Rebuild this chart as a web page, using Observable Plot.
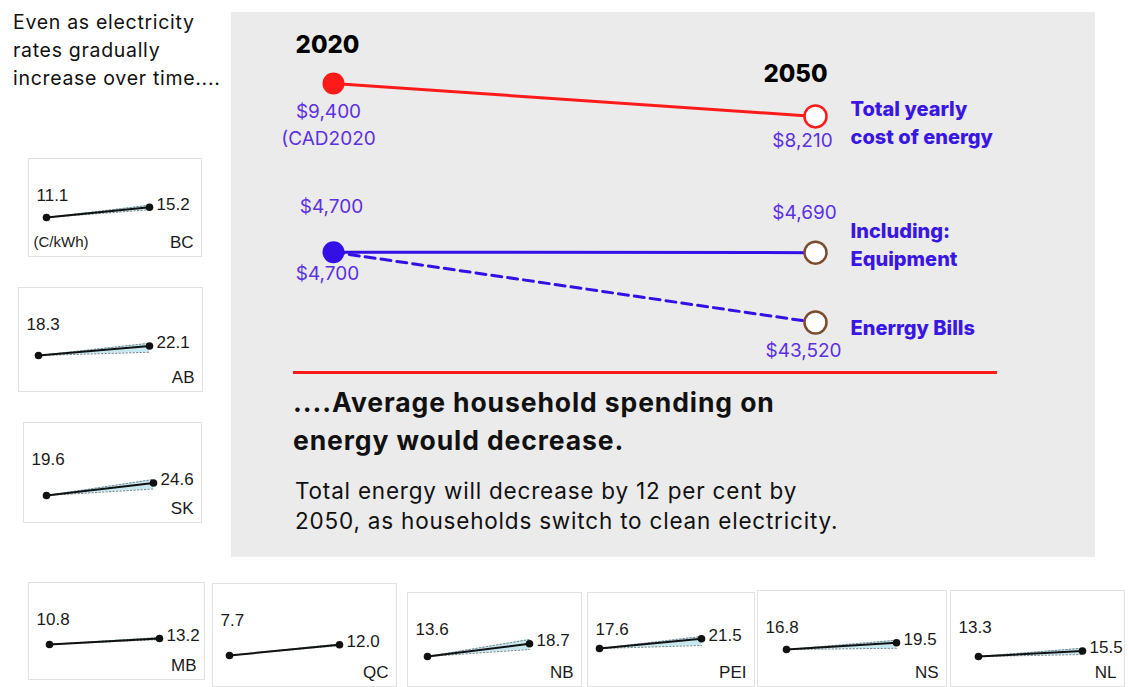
<!DOCTYPE html>
<html>
<head>
<meta charset="utf-8">
<script src="https://cdn.jsdelivr.net/npm/d3@7"></script>
<script src="https://cdn.jsdelivr.net/npm/@observablehq/plot@0.6"></script>
<style>
  body { margin: 0; background: #ffffff; }
  #page { position: relative; width: 1128px; height: 687px; overflow: hidden;
          font-family: Inter, "Open Sans", "DejaVu Sans", sans-serif; color: #111; }
  .abs { position: absolute; white-space: pre-line; }
  .box { position: absolute; border: 1px solid #e2e2e2; box-sizing: border-box; background: #fff; }
  .box svg { display: block; }
</style>
</head>
<body>
<div id="page"></div>
<script>
// ---------------- DATA ----------------
const years = [2020, 2050];
const yearLabels = ["2020", "2050"];

const totalCost     = [9400, 8210];
const equipmentCost = [4700, 4690];
const energyBills   = [4700, 3520];

const totalLabels     = ["$9,400\n(CAD2020", "$8,210"];
const equipmentLabels = ["$4,700", "$4,690"];
const billsLabels     = ["$4,700", "$43,520"];

const seriesNames = ["Total yearly\ncost of energy", "Including:\nEquipment", "Enerrgy Bills"];

const leftNote = "Even as electricity\nrates gradually\nincrease over time....";
const headline = "....Average household spending on\nenergy would decrease.";
const paragraph = "Total energy will decrease by 12 per cent by\n2050, as households switch to clean electricity.";

const provinces    = ["BC", "AB", "SK", "MB", "QC", "NB", "PEI", "NS", "NL"];
const rate2020     = [11.1, 18.3, 19.6, 10.8, 7.7, 13.6, 17.6, 16.8, 13.3];
const rate2050     = [15.2, 22.1, 24.6, 13.2, 12.0, 18.7, 21.5, 19.5, 15.5];
const rateHigh2050 = [16.0, 23.2, 26.0, 13.6, 12.3, 20.4, 22.4, 20.5, 16.6];
const rateLow2050  = [14.2, 19.6, 22.2, 12.8, 11.7, 16.4, 18.8, 17.3, 14.1];
const rateUnit = "(C/kWh)";

// ---------------- LAYOUT (not data) ----------------
const boxLayout = [
  {left: 28,  top: 158, w: 174, h: 99,  x0: 17, span: 103, dotY: 58},
  {left: 18,  top: 287, w: 185, h: 105, x0: 19, span: 111, dotY: 67},
  {left: 23,  top: 422, w: 179, h: 101, x0: 22, span: 107, dotY: 72},
  {left: 28,  top: 582, w: 177, h: 98,  x0: 20, span: 110, dotY: 61},
  {left: 212, top: 583, w: 185, h: 104, x0: 16, span: 110, dotY: 71},
  {left: 407, top: 592, w: 175, h: 95,  x0: 19, span: 102, dotY: 63},
  {left: 587, top: 592, w: 168, h: 95,  x0: 11, span: 102, dotY: 55},
  {left: 757, top: 590, w: 190, h: 97,  x0: 28, span: 110, dotY: 58},
  {left: 950, top: 590, w: 175, h: 97,  x0: 27, span: 104, dotY: 65}
];

const page = document.getElementById("page");
function addDiv(css, text) {
  const d = document.createElement("div");
  d.className = "abs";
  Object.assign(d.style, css);
  if (text !== undefined) d.textContent = text;
  page.appendChild(d);
  return d;
}

// ---------------- MAIN SLOPE CHART ----------------
const RED = "#ff1a1a", BLUE = "#3410e6", VAL = "#5b30e0", NAME = "#3a16e2", RING = "#7b4b2e";
const mk = (vals, labels, key) => years.map((year, i) => ({series: key, year, value: vals[i], label: labels[i], yearLabel: yearLabels[i]}));
const totalRows = mk(totalCost, totalLabels, "total");
const equipRows = mk(equipmentCost, equipmentLabels, "equip");
const billsRows = mk(energyBills, billsLabels, "bills");
const at = (rows, y) => rows.filter(d => d.year === y);
const valTxt = {fontSize: 19, fill: VAL, letterSpacing: "0.7px"};
const nameTxt = {fontSize: 20, fontWeight: 800, fill: NAME, letterSpacing: "0.8px", textAnchor: "start", lineAnchor: "middle", lineHeight: 1.4};

const main = Plot.plot({
  width: 864, height: 545,
  marginTop: 0, marginRight: 0, marginBottom: 0, marginLeft: 0,
  style: {background: "#ebebeb", overflow: "visible", fontFamily: "Inter, 'Open Sans', sans-serif"},
  x: {domain: [2020, 2050], range: [102, 584], axis: null},
  y: {type: "log", domain: [3520, 9400], range: [310, 71], axis: null},
  marks: [
    Plot.line(totalRows, {x: "year", y: "value", stroke: RED, strokeWidth: 3}),
    Plot.line(equipRows, {x: "year", y: "value", stroke: BLUE, strokeWidth: 3}),
    Plot.line(billsRows, {x: "year", y: "value", stroke: BLUE, strokeWidth: 3, strokeDasharray: "10,6"}),
    Plot.dot(at(totalRows, 2020), {x: "year", y: "value", r: 11, fill: RED}),
    Plot.dot(at(equipRows, 2020), {x: "year", y: "value", r: 11, fill: BLUE}),
    Plot.dot(at(totalRows, 2050), {x: "year", y: "value", r: 11, fill: "white", stroke: RED, strokeWidth: 2.5}),
    Plot.dot([...at(equipRows, 2050), ...at(billsRows, 2050)], {x: "year", y: "value", r: 11, fill: "white", stroke: RING, strokeWidth: 2.5}),
    // year headers
    Plot.text(at(totalRows, 2020), {x: "year", y: "value", text: "yearLabel", dx: -6, dy: -38, fontSize: 24, fontWeight: 800, fill: "#000"}),
    Plot.text(at(totalRows, 2050), {x: "year", y: "value", text: "yearLabel", dx: -20, dy: -42, fontSize: 24, fontWeight: 800, fill: "#000"}),
    // value labels
    Plot.text(at(totalRows, 2020), {x: "year", y: "value", text: "label", dx: -5, dy: 15, lineAnchor: "top", lineHeight: 1.42, ...valTxt}),
    Plot.text(at(totalRows, 2050), {x: "year", y: "value", text: "label", dx: -13, dy: 24, ...valTxt}),
    Plot.text(at(equipRows, 2020), {x: "year", y: "value", text: "label", dx: -2, dy: -45, ...valTxt}),
    Plot.text(at(billsRows, 2020), {x: "year", y: "value", text: "label", dx: -6, dy: 22, ...valTxt}),
    Plot.text(at(equipRows, 2050), {x: "year", y: "value", text: "label", dx: -11, dy: -40, ...valTxt}),
    Plot.text(at(billsRows, 2050), {x: "year", y: "value", text: "label", dx: -12, dy: 28, ...valTxt}),
    // series names
    Plot.text(at(totalRows, 2050), {x: "year", y: "value", text: () => seriesNames[0], dx: 35, dy: 5, ...nameTxt}),
    Plot.text(at(equipRows, 2050), {x: "year", y: "value", text: () => seriesNames[1], dx: 35, dy: -10, ...nameTxt}),
    Plot.text(at(billsRows, 2050), {x: "year", y: "value", text: () => seriesNames[2], dx: 35, dy: 4, ...nameTxt})
  ]
});
const mainWrap = addDiv({left: "231px", top: "12px", width: "864px", height: "545px"});
mainWrap.appendChild(main);

// divider + texts in gray panel
addDiv({left: "293px", top: "371px", width: "704px", height: "3px", background: RED});
addDiv({left: "293px", top: "383px", width: "700px", fontSize: "26.5px", fontWeight: "700", lineHeight: "38px", letterSpacing: "0.9px", color: "#111"}, headline);
addDiv({left: "295px", top: "476px", width: "700px", fontSize: "22.5px", fontWeight: "400", lineHeight: "30px", letterSpacing: "0.8px", color: "#111"}, paragraph);

// left note
addDiv({left: "13px", top: "8px", width: "260px", fontSize: "19.5px", lineHeight: "28px", letterSpacing: "0.7px", color: "#111"}, leftNote);

// ---------------- SMALL MULTIPLES ----------------
const K = 2.5; // px per cent/kWh
provinces.forEach((p, i) => {
  const L = boxLayout[i];
  const v0 = rate2020[i];
  const line = [{year: 2020, v: rate2020[i]}, {year: 2050, v: rate2050[i]}];
  const band = [{year: 2020, lo: v0, hi: v0}, {year: 2050, lo: rateLow2050[i], hi: rateHigh2050[i]}];
  const txt = {fill: "#1a1a1a", fontSize: 17, fontFamily: "'Liberation Sans', Arial, sans-serif"};
  const chart = Plot.plot({
    width: L.w - 2, height: L.h - 2,
    marginTop: 0, marginRight: 0, marginBottom: 0, marginLeft: 0,
    style: {background: "transparent", overflow: "visible"},
    x: {domain: [2020, 2050], range: [L.x0, L.x0 + L.span], axis: null},
    y: {domain: [v0 - (L.h - L.dotY) / K, v0 + L.dotY / K], range: [L.h, 0], axis: null},
    marks: [
      Plot.areaY(band, {x: "year", y1: "lo", y2: "hi", fill: "#b6e0ea", fillOpacity: 0.75}),
      Plot.line(band, {x: "year", y: "hi", stroke: "#6f878c", strokeWidth: 1, strokeDasharray: "1.5,2"}),
      Plot.line(band, {x: "year", y: "lo", stroke: "#6f878c", strokeWidth: 1, strokeDasharray: "1.5,2"}),
      Plot.line(line, {x: "year", y: "v", stroke: "#111", strokeWidth: 2}),
      Plot.dot(line, {x: "year", y: "v", r: 3.8, fill: "#111"}),
      Plot.text([v0], {frameAnchor: "top-left", text: d => d.toFixed(1), dx: 7, dy: 36, lineAnchor: "middle", ...txt}),
      Plot.text(line.slice(1), {x: "year", y: "v", text: d => d.v.toFixed(1), dx: 7, dy: -3, textAnchor: "start", lineAnchor: "middle", ...txt}),
      Plot.text([p], {frameAnchor: "bottom-right", text: d => d, dx: -8, dy: -14, lineAnchor: "middle", ...txt}),
      i === 0 ? Plot.text([rateUnit], {frameAnchor: "bottom-left", text: d => d, dx: 4, dy: -14, lineAnchor: "middle", ...txt, fontSize: 15}) : null
    ]
  });
  const box = document.createElement("div");
  box.className = "box";
  Object.assign(box.style, {left: L.left + "px", top: L.top + "px", width: L.w + "px", height: L.h + "px"});
  box.appendChild(chart);
  page.appendChild(box);
});
</script>
</body>
</html>
